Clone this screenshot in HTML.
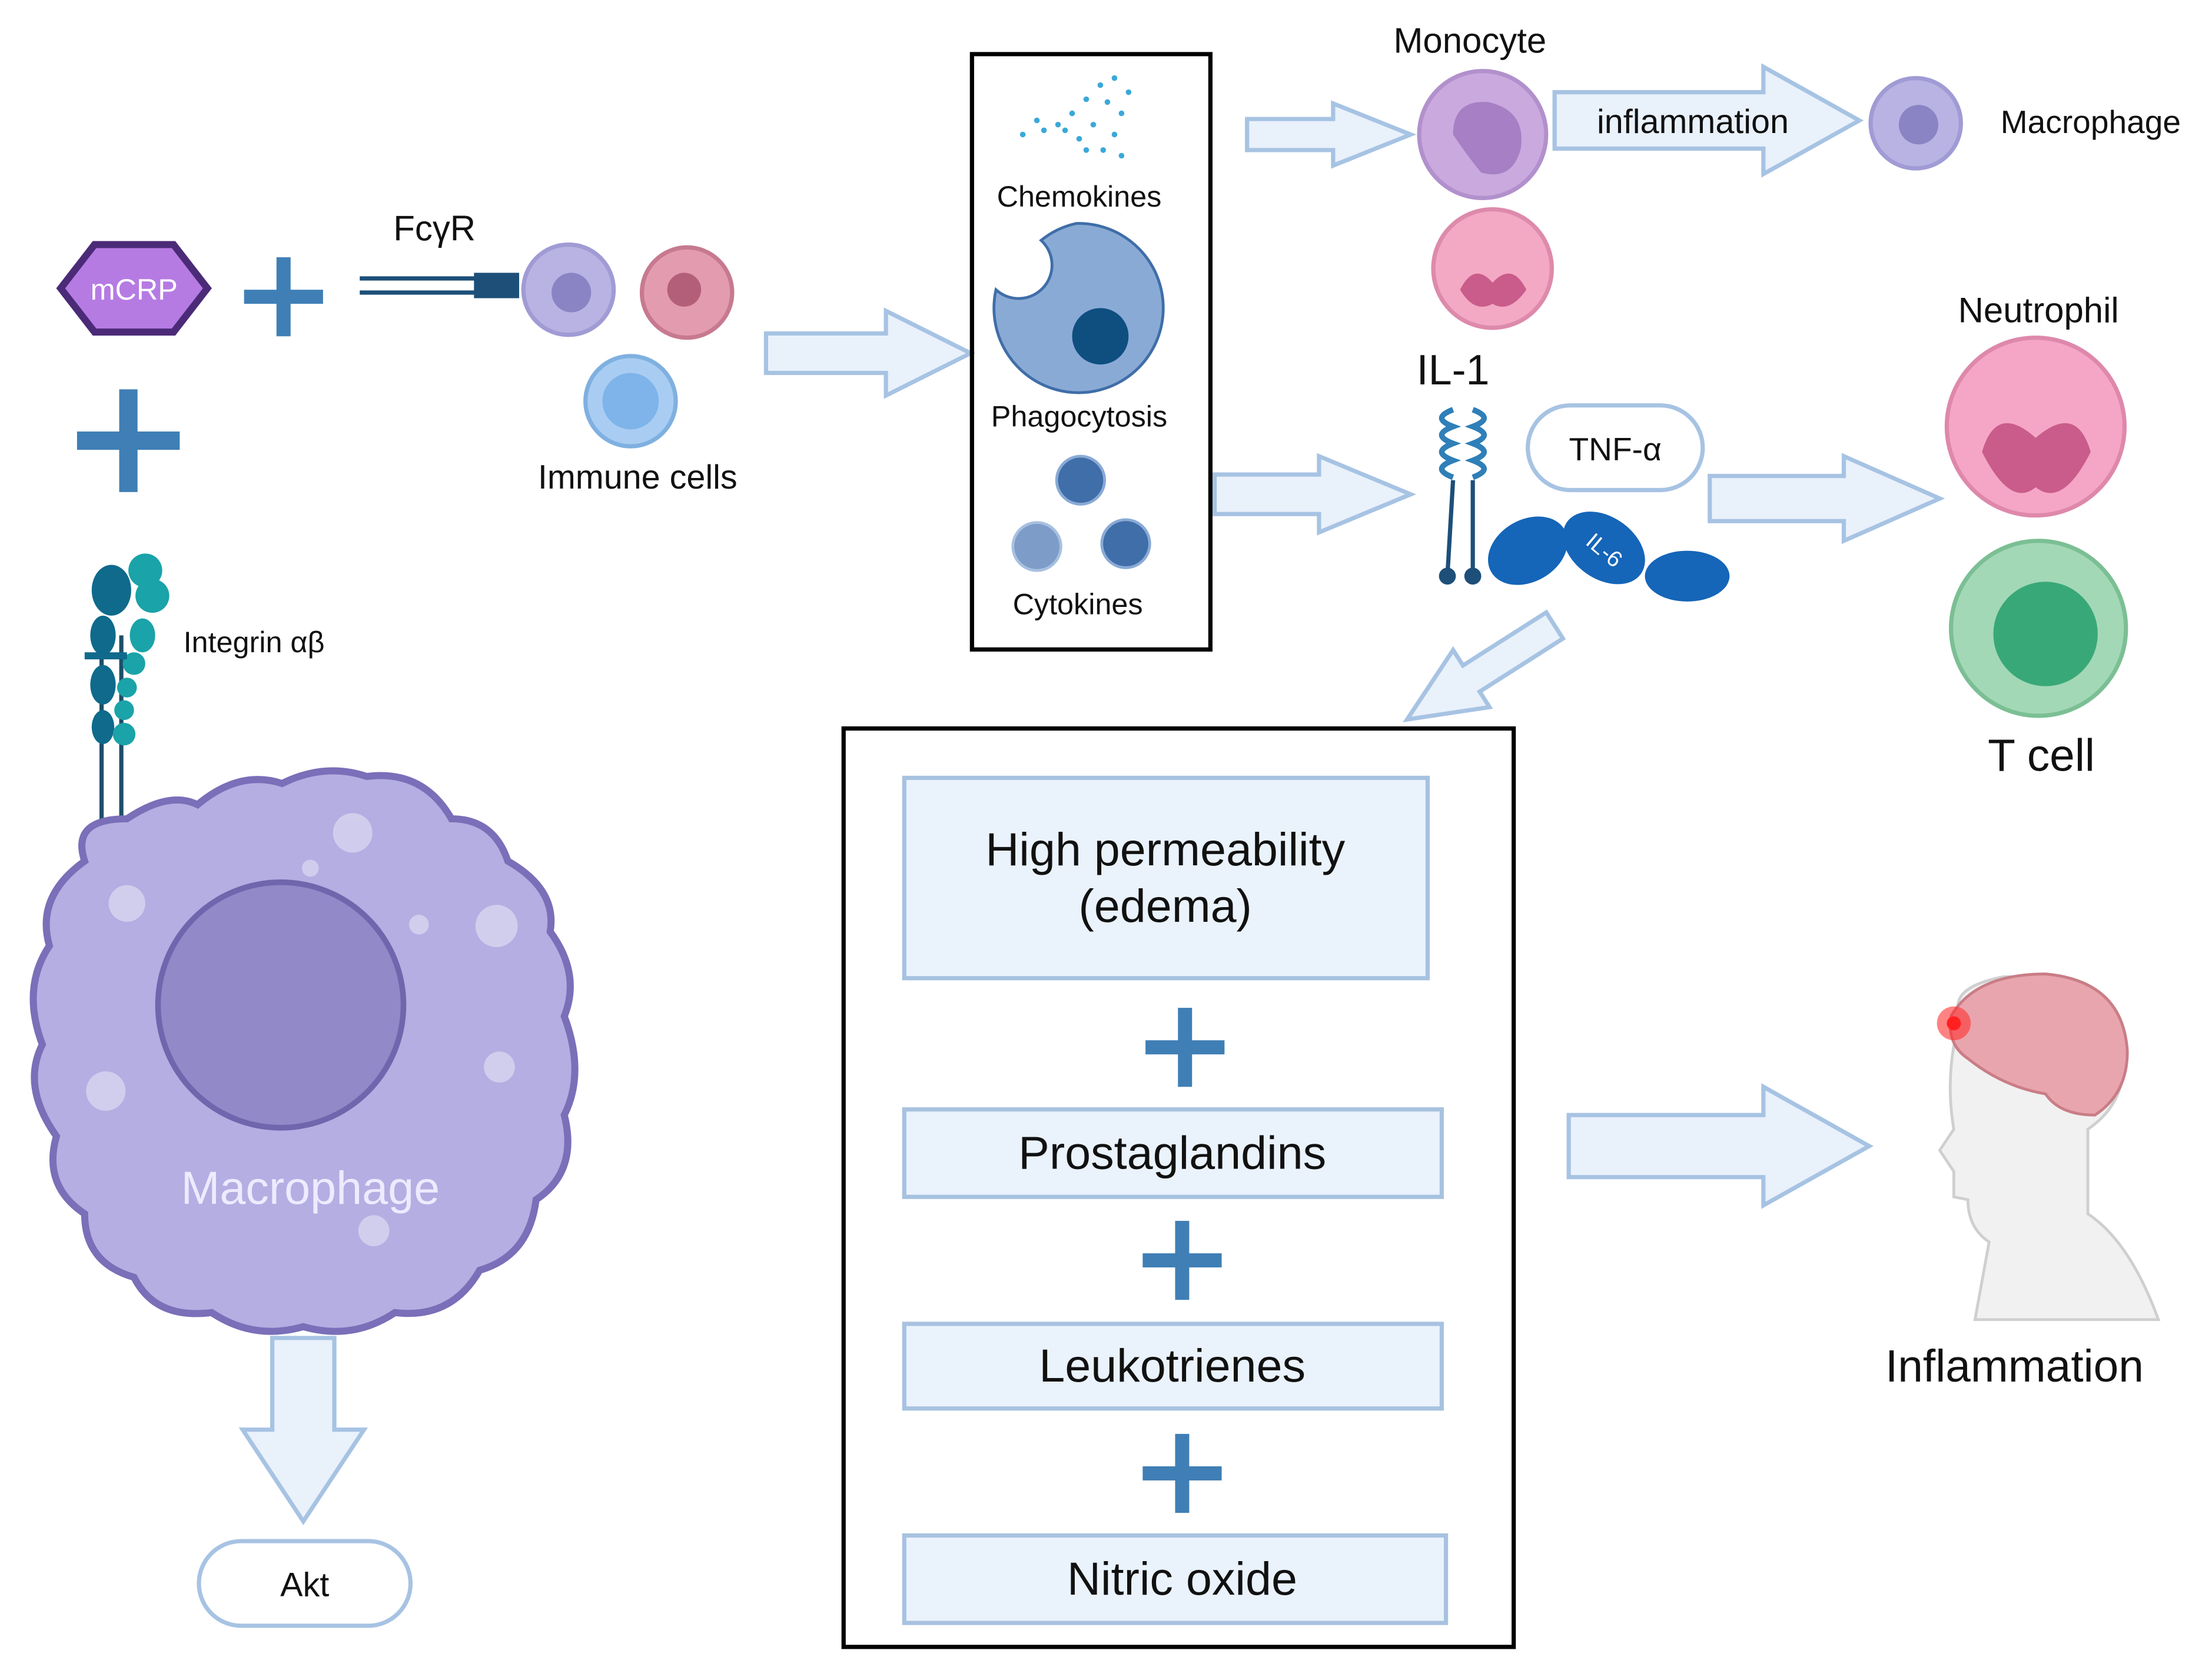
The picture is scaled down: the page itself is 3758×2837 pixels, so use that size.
<!DOCTYPE html>
<html><head><meta charset="utf-8"><style>
html,body{margin:0;padding:0;background:#fff;}
svg{display:block;}
text{font-family:"Liberation Sans",sans-serif;fill:#111;}
</style></head><body>
<svg width="3758" height="2837" viewBox="0 0 1568 1183" xmlns="http://www.w3.org/2000/svg">
<rect width="1568" height="1183" fill="#fff"/>
<defs>
<g id="plus"><rect x="-28" y="-5" width="56" height="10" fill="#3f7fb5"/><rect x="-5" y="-28" width="10" height="56" fill="#3f7fb5"/></g>
</defs>
<g fill="#e9f1fb" stroke="#a7c3e3" stroke-width="3">
<path d="M543,236 L628,236 L628,220 L688,250 L628,280 L628,264 L543,264 Z"/>
<path d="M884,84 L945,84 L945,73 L1000,95 L945,117 L945,106 L884,106 Z"/>
<path d="M1102,65 L1250,65 L1250,47 L1318,85 L1250,123 L1250,105 L1102,105 Z"/>
<path d="M861,336 L935,336 L935,323 L1000,350 L935,377 L935,364 L861,364 Z"/>
<path d="M1212,337 L1307,337 L1307,323 L1375,353 L1307,383 L1307,369 L1212,369 Z"/>
<path d="M1112,790 L1250,790 L1250,770 L1325,812 L1250,854 L1250,834 L1112,834 Z"/>
<path d="M193,948 L237,948 L237,1013 L258,1013 L215,1078 L172,1013 L193,1013 Z"/>
<g transform="translate(1102,443) rotate(147.5)"><path d="M0,-11 L70,-11 L70,-24 L124,0 L70,24 L70,11 L0,11 Z"/></g>
</g>
<!-- mCRP -->
<polygon points="43,204 67,173 123,173 147,204 123,235 67,235" fill="#b57be3" stroke="#4b2a78" stroke-width="5"/>
<text x="95" y="212" font-size="21" text-anchor="middle" fill="#fff" style="fill:#fff">mCRP</text>
<use href="#plus" x="201" y="210"/>
<g transform="translate(91,312) scale(1.3)"><use href="#plus"/></g>
<text x="308" y="170" font-size="25" text-anchor="middle">FcγR</text>
<line x1="255" y1="197" x2="340" y2="197" stroke="#1d4f79" stroke-width="3"/>
<line x1="255" y1="207" x2="340" y2="207" stroke="#1d4f79" stroke-width="3"/>
<rect x="336" y="193" width="32" height="18" fill="#1d4f79"/>
<circle cx="403" cy="205" r="32" fill="#b8b3e2" stroke="#a09bd4" stroke-width="3"/><circle cx="405" cy="207" r="14" fill="#8a84c4"/>
<circle cx="487" cy="207" r="32" fill="#e39bb0" stroke="#c77990" stroke-width="3"/><circle cx="485" cy="205" r="12" fill="#b35f7a"/>
<circle cx="447" cy="284" r="32" fill="#a9cdf2" stroke="#7fb0e0" stroke-width="3"/><circle cx="447" cy="284" r="20" fill="#7eb4ea"/>
<text x="452" y="346" font-size="24" text-anchor="middle">Immune cells</text>
<!-- box1 -->
<rect x="689" y="38" width="169" height="422" fill="none" stroke="#000" stroke-width="3"/>
<g fill="#3aa8d8">
<circle cx="780" cy="60" r="2"/><circle cx="790" cy="55" r="2"/><circle cx="770" cy="70" r="2"/><circle cx="785" cy="72" r="2"/><circle cx="795" cy="80" r="2"/><circle cx="760" cy="80" r="2"/><circle cx="750" cy="88" r="2"/><circle cx="775" cy="88" r="2"/><circle cx="790" cy="95" r="2"/><circle cx="740" cy="92" r="2"/><circle cx="725" cy="95" r="2"/><circle cx="765" cy="98" r="2"/><circle cx="782" cy="106" r="2"/><circle cx="795" cy="110" r="2"/><circle cx="755" cy="92" r="2"/><circle cx="800" cy="65" r="2"/><circle cx="735" cy="85" r="2"/><circle cx="770" cy="106" r="2"/>
</g>
<text x="765" y="146" font-size="21" text-anchor="middle">Chemokines</text>
<path d="M763,158 A60,60 0 1 1 706,205 A22,22 0 1 0 738,170 A60,60 0 0 1 763,158 Z" fill="#8aaad6" stroke="#3f6ea8" stroke-width="2"/>
<circle cx="780" cy="238" r="20" fill="#0e4f80"/>
<text x="765" y="302" font-size="21" text-anchor="middle">Phagocytosis</text>
<circle cx="766" cy="340" r="17" fill="#3f6ea8" stroke="#8aaad6" stroke-width="2"/>
<circle cx="735" cy="387" r="17" fill="#7d9dc8" stroke="#a8c0e0" stroke-width="2"/>
<circle cx="798" cy="385" r="17" fill="#3f6ea8" stroke="#8aaad6" stroke-width="2"/>
<text x="764" y="435" font-size="21" text-anchor="middle">Cytokines</text>
<!-- monocyte -->
<text x="1042" y="37" font-size="25" text-anchor="middle">Monocyte</text>
<circle cx="1051" cy="95" r="45" fill="#c9a9de" stroke="#b190cc" stroke-width="3"/>
<path d="M1030,95 Q1030,70 1055,72 Q1082,78 1078,105 Q1072,128 1050,122 Q1040,110 1030,95Z" fill="#a67fc4"/>
<text x="1200" y="94" font-size="24" text-anchor="middle">inflammation</text>
<circle cx="1358" cy="87" r="32" fill="#b8b3e2" stroke="#a09bd4" stroke-width="3"/><circle cx="1360" cy="88" r="14" fill="#8a84c4"/>
<text x="1482" y="94" font-size="23" text-anchor="middle">Macrophage</text>
<circle cx="1058" cy="190" r="42" fill="#f3a8c4" stroke="#dd8aab" stroke-width="3"/>
<path d="M1035,205 Q1045,185 1058,200 Q1072,185 1082,205 Q1070,222 1058,215 Q1045,222 1035,205Z" fill="#c95c8a"/>
<!-- IL-1 receptor -->
<text x="1030" y="272" font-size="30" text-anchor="middle">IL-1</text>
<g fill="none" stroke="#2f7fb8" stroke-width="4">
<path d="M1030,290 q-16,6 0,12 q-16,6 0,12 q-16,6 0,12 q-16,6 0,12"/>
<path d="M1044,290 q16,6 0,12 q16,6 0,12 q16,6 0,12 q16,6 0,12"/>
</g>
<line x1="1030" y1="340" x2="1026" y2="408" stroke="#1d4f79" stroke-width="3"/>
<line x1="1044" y1="340" x2="1044" y2="408" stroke="#1d4f79" stroke-width="3"/>
<circle cx="1026" cy="408" r="6" fill="#1d4f79"/><circle cx="1044" cy="408" r="6" fill="#1d4f79"/>
<rect x="1083" y="287" width="124" height="60" rx="30" fill="#fff" stroke="#a7c3e3" stroke-width="3"/>
<text x="1145" y="326" font-size="23" text-anchor="middle">TNF-α</text>
<ellipse cx="1083" cy="390" rx="30" ry="22" fill="#1565b8" transform="rotate(-30 1083 390)"/>
<ellipse cx="1137" cy="388" rx="32" ry="22" fill="#1565b8" transform="rotate(35 1137 388)"/>
<ellipse cx="1196" cy="408" rx="30" ry="18" fill="#1565b8"/>
<text x="1137" y="395" font-size="16" text-anchor="middle" fill="#fff" style="fill:#fff" transform="rotate(40 1137 390)">IL-6</text>
<!-- neutrophil, T cell -->
<text x="1445" y="228" font-size="25" text-anchor="middle">Neutrophil</text>
<circle cx="1443" cy="302" r="63" fill="#f5a6c6" stroke="#de88ab" stroke-width="3"/>
<path d="M1405,320 Q1415,285 1443,310 Q1472,285 1482,320 Q1462,360 1443,345 Q1425,360 1405,320Z" fill="#c95c8a"/>
<circle cx="1445" cy="445" r="62" fill="#a3d8b6" stroke="#7bbf94" stroke-width="3"/>
<circle cx="1450" cy="449" r="37" fill="#39a878"/>
<text x="1447" y="546" font-size="32" text-anchor="middle">T cell</text>
<!-- box2 -->
<rect x="598" y="516" width="475" height="651" fill="none" stroke="#000" stroke-width="3"/>
<g fill="#eaf2fc" stroke="#a7c2e0" stroke-width="3">
<rect x="641" y="551" width="371" height="142"/>
<rect x="641" y="786" width="381" height="62"/>
<rect x="641" y="938" width="381" height="60"/>
<rect x="641" y="1088" width="384" height="62"/>
</g>
<text x="826" y="613" font-size="33" text-anchor="middle">High permeability</text>
<text x="826" y="653" font-size="33" text-anchor="middle">(edema)</text>
<text x="831" y="828" font-size="33" text-anchor="middle">Prostaglandins</text>
<text x="831" y="979" font-size="33" text-anchor="middle">Leukotrienes</text>
<text x="838" y="1130" font-size="33" text-anchor="middle">Nitric  oxide</text>
<use href="#plus" x="840" y="742"/>
<use href="#plus" x="838" y="893"/>
<use href="#plus" x="838" y="1044"/>
<!-- head -->
<path d="M1390,720 Q1380,700 1420,692 Q1490,690 1505,740 Q1510,780 1480,800 L1480,860 Q1510,880 1530,935 L1400,935 L1410,880 Q1395,870 1395,850 L1385,848 L1385,830 L1375,815 L1385,800 Q1378,760 1390,720Z" fill="#f1f1f1" stroke="#cfcfcf" stroke-width="2"/>
<path d="M1383,720 Q1400,690 1450,690 Q1505,695 1508,745 Q1508,775 1485,790 Q1460,790 1450,775 Q1420,770 1395,750 Q1380,740 1383,720Z" fill="#e8a5ad" stroke="#c97d86" stroke-width="2"/>
<circle cx="1385" cy="725" r="12" fill="#ff3030" opacity="0.6"/>
<circle cx="1385" cy="725" r="5" fill="#ff2020"/>
<text x="1428" y="979" font-size="32" text-anchor="middle">Inflammation</text>
<!-- integrin -->
<line x1="72" y1="450" x2="72" y2="592" stroke="#1d4f6a" stroke-width="3"/>
<line x1="86" y1="450" x2="86" y2="592" stroke="#1d4f6a" stroke-width="3"/>
<g fill="#0f6a8c">
<ellipse cx="79" cy="418" rx="14" ry="18"/><ellipse cx="73" cy="450" rx="9" ry="14"/><ellipse cx="73" cy="485" rx="9" ry="14"/><ellipse cx="73" cy="515" rx="8" ry="12"/>
</g>
<g fill="#1aa3a8">
<circle cx="103" cy="404" r="12"/><circle cx="108" cy="422" r="12"/><ellipse cx="101" cy="450" rx="9" ry="12"/><circle cx="95" cy="470" r="8"/><circle cx="90" cy="487" r="7"/><circle cx="88" cy="503" r="7"/><circle cx="88" cy="520" r="8"/>
</g>
<rect x="60" y="462" width="30" height="5" fill="#0f6a8c"/>
<text x="130" y="462" font-size="21">Integrin αβ</text>
<!-- macrophage -->
<path d="M60,610 Q50,580 90,580 Q120,560 140,570 Q170,545 200,555 Q230,540 260,550 Q300,545 320,580 Q350,580 360,610 Q395,630 390,660 Q412,690 400,720 Q415,760 400,790 Q410,830 380,850 Q375,890 340,900 Q320,935 280,930 Q250,950 215,940 Q180,950 150,930 Q110,935 95,905 Q60,895 60,860 Q30,840 40,805 Q15,770 30,740 Q15,700 35,670 Q25,635 60,610Z" fill="#b4aee2" stroke="#7a6fb8" stroke-width="5"/>
<circle cx="199" cy="712" r="87" fill="#9189c8" stroke="#6f66ad" stroke-width="4"/>
<g fill="#d8d4f0" opacity="0.8">
<circle cx="250" cy="590" r="14"/><circle cx="90" cy="640" r="13"/><circle cx="352" cy="656" r="15"/><circle cx="75" cy="773" r="14"/><circle cx="354" cy="756" r="11"/><circle cx="265" cy="872" r="11"/><circle cx="297" cy="655" r="7"/><circle cx="220" cy="615" r="6"/>
</g>
<text x="220" y="853" font-size="33" text-anchor="middle" fill="#fff" style="fill:#eeeaff">Macrophage</text>
<rect x="141" y="1092" width="150" height="60" rx="30" fill="#fff" stroke="#a7c3e3" stroke-width="3"/>
<text x="216" y="1131" font-size="24" text-anchor="middle">Akt</text>
</svg>
</body></html>
